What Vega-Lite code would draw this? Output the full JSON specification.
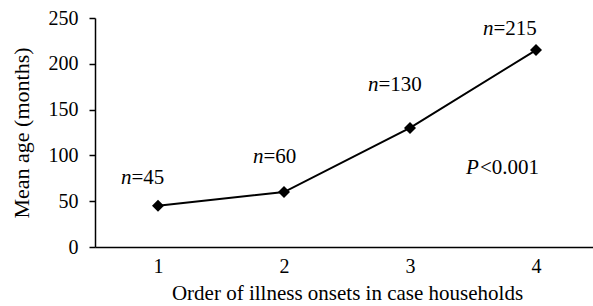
{
  "$schema": "https://vega.github.io/schema/vega-lite/v6.json",
  "width": 504,
  "height": 229,
  "autosize": "none",
  "padding": {"left": 95, "top": 18, "right": 0, "bottom": 59},
  "background": "white",
  "config": {
    "view": {"stroke": null},
    "font": "Liberation Serif",
    "axis": {"labelFont": "Liberation Serif", "titleFont": "Liberation Serif", "labelColor": "black", "titleColor": "black", "domainColor": "black", "tickColor": "black", "grid": false, "labelFontSize": 20, "titleFontSize": 21, "titleFontWeight": "normal"}
  },
  "data": {
    "values": [
      {"order": "1", "age": 45, "n": "=45"},
      {"order": "2", "age": 60, "n": "=60"},
      {"order": "3", "age": 130, "n": "=130"},
      {"order": "4", "age": 215, "n": "=215"}
    ]
  },
  "encoding": {
    "x": {"field": "order", "type": "ordinal", "scale": {"type": "point", "padding": 0.5},
      "axis": {"title": "Order of illness onsets in case households", "labelAngle": 0, "ticks": false, "labelPadding": 9, "titlePadding": 6, "domainWidth": 1.5}},
    "y": {"field": "age", "type": "quantitative", "scale": {"domain": [0, 250]},
      "axis": {"title": "Mean age (months)", "titleFontSize": 22, "values": [0, 50, 100, 150, 200, 250], "tickSize": 6, "labelPadding": 11, "titlePadding": 15, "domainWidth": 1.5, "tickWidth": 1.5}}
  },
  "layer": [
    {"mark": {"type": "line", "color": "black", "strokeWidth": 2}},
    {"mark": {"type": "point", "shape": "diamond", "filled": true, "color": "black", "size": 144, "opacity": 1}},
    {"transform": [{"filter": "datum.order == '1'"}], "mark": {"type": "text", "text": "n", "fontStyle": "italic", "fontSize": 21, "align": "left", "baseline": "alphabetic", "dx": -37, "dy": -22}},
    {"transform": [{"filter": "datum.order == '1'"}], "mark": {"type": "text", "fontSize": 21, "align": "left", "baseline": "alphabetic", "dx": -26.5, "dy": -22}, "encoding": {"text": {"field": "n"}}},
    {"transform": [{"filter": "datum.order == '2'"}], "mark": {"type": "text", "text": "n", "fontStyle": "italic", "fontSize": 21, "align": "left", "baseline": "alphabetic", "dx": -31, "dy": -29}},
    {"transform": [{"filter": "datum.order == '2'"}], "mark": {"type": "text", "fontSize": 21, "align": "left", "baseline": "alphabetic", "dx": -20.5, "dy": -29}, "encoding": {"text": {"field": "n"}}},
    {"transform": [{"filter": "datum.order == '3'"}], "mark": {"type": "text", "text": "n", "fontStyle": "italic", "fontSize": 21, "align": "left", "baseline": "alphabetic", "dx": -42, "dy": -37}},
    {"transform": [{"filter": "datum.order == '3'"}], "mark": {"type": "text", "fontSize": 21, "align": "left", "baseline": "alphabetic", "dx": -31.5, "dy": -37}, "encoding": {"text": {"field": "n"}}},
    {"transform": [{"filter": "datum.order == '4'"}], "mark": {"type": "text", "text": "n", "fontStyle": "italic", "fontSize": 21, "align": "left", "baseline": "alphabetic", "dx": -53, "dy": -15}},
    {"transform": [{"filter": "datum.order == '4'"}], "mark": {"type": "text", "fontSize": 21, "align": "left", "baseline": "alphabetic", "dx": -42.5, "dy": -15}, "encoding": {"text": {"field": "n"}}},
    {"transform": [{"filter": "datum.order == '3'"}], "mark": {"type": "text", "text": "P", "fontStyle": "italic", "fontSize": 21, "align": "left", "baseline": "alphabetic", "dx": 56}, "encoding": {"y": {"datum": 80}}},
    {"transform": [{"filter": "datum.order == '3'"}], "mark": {"type": "text", "text": "<0.001", "fontSize": 21, "align": "left", "baseline": "alphabetic", "dx": 70}, "encoding": {"y": {"datum": 80}}}
  ]
}
